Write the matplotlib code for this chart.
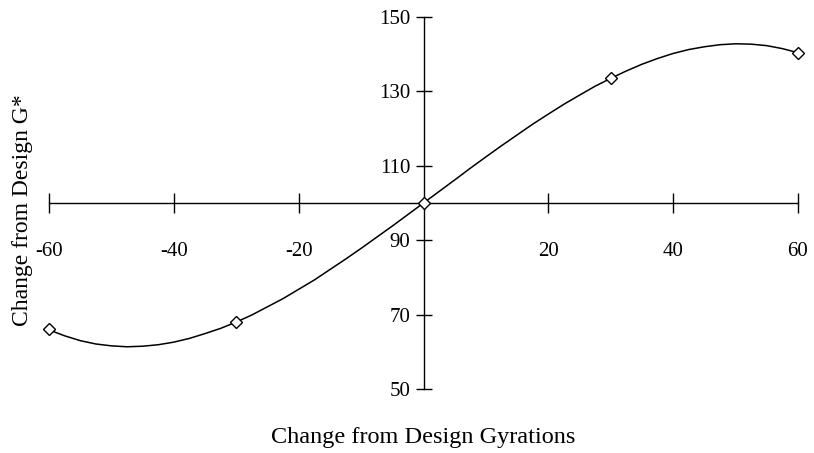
import matplotlib
matplotlib.use("Agg")
import matplotlib.pyplot as plt

# Marked data points
point_x = [-60, -30, 0, 30, 60]
point_y = [66.1, 68.0, 100.0, 133.5, 140.4]

# Smooth curve values
curve_x = [-60, -57.5, -55, -52.5, -50, -47.5, -45, -42.5, -40, -37.5, -35, -32.5,
           -30, -27.5, -25, -22.5, -20, -17.5, -15, -12.5, -10, -7.5, -5, -2.5, 0,
           2.5, 5, 7.5, 10, 12.5, 15, 17.5, 20, 22.5, 25, 27.5, 30, 32.5,
           35, 37.5, 40, 42.5, 45, 47.5, 50, 52.5, 55, 57.5, 60]
curve_y = [65.9, 64.3, 63.0, 62.1, 61.6, 61.35, 61.5, 61.9, 62.6, 63.6, 64.9, 66.3,
           68.0, 69.9, 72.1, 74.3, 76.8, 79.3, 82.1, 84.9, 87.8, 90.8, 93.8, 96.9, 100.0,
           103.1, 106.2, 109.35, 112.4, 115.4, 118.3, 121.2, 123.9, 126.55, 129.0, 131.4, 133.5, 135.5,
           137.3, 138.85, 140.2, 141.25, 142.0, 142.55, 142.8, 142.7, 142.3, 141.5, 140.4]

x_ticks = [-60, -40, -20, 20, 40, 60]
y_ticks = [50, 70, 90, 110, 130, 150]

plt.rcParams['font.family'] = ['Liberation Serif', 'DejaVu Serif']

fig = plt.figure(figsize=(8.14, 4.53), dpi=100)
ax = fig.add_axes([49/814, 1-389/453, (798-49)/814, (389-17)/453])

ax.plot(curve_x, curve_y, color='black', lw=1.1, clip_on=False, zorder=3)
ax.plot(point_x, point_y, linestyle='none', marker='D', markersize=6.5,
        markerfacecolor='white', markeredgecolor='black', markeredgewidth=1.0,
        clip_on=False, zorder=4)

ax.set_xlim(-60, 60)
ax.set_ylim(50, 150)

ax.spines['top'].set_visible(False)
ax.spines['right'].set_visible(False)
ax.spines['left'].set_position(('data', 0))
ax.spines['bottom'].set_position(('data', 100))
for s in ('left', 'bottom'):
    ax.spines[s].set_linewidth(1.0)

ax.set_xticks(x_ticks)
ax.set_xticklabels([str(v) for v in x_ticks])
ax.set_yticks(y_ticks)
ax.set_yticklabels([str(v) for v in y_ticks])

ax.tick_params(axis='x', direction='inout', length=14, width=1.0, pad=21, labelsize=15)
ax.tick_params(axis='y', direction='inout', length=11, width=1.0, pad=4, labelsize=15)

fig.text(423/814, 1-438/453, 'Change from Design Gyrations', ha='center', va='center', fontsize=17.5)
fig.text(23/814, 1-210/453, 'Change from Design G*', ha='center', va='center',
         rotation=90, fontsize=17)

fig.savefig('out.png', dpi=100)
